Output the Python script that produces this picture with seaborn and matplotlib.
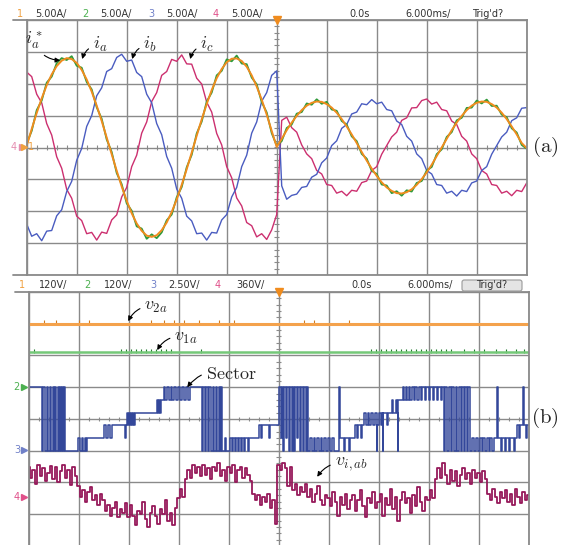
import numpy as np
import matplotlib
matplotlib.use("Agg")
import matplotlib.pyplot as plt
from matplotlib.lines import Line2D
from matplotlib.patches import FancyBboxPatch
import seaborn as sns

# scope sample clocks (time in divisions, 6 ms/div)
t_cur = np.round(np.arange(101) * 0.1 - 5.0, 2)
t_vab = np.round(np.arange(201) * 0.05 - 5.0, 2)

# ---- (a) currents, read in divisions (5 A/div) ----
ia_ref = [0.05, 0.58, 1.08, 1.54, 1.95, 2.29, 2.55, 2.72, 2.80, 2.77,
          2.65, 2.43, 2.13, 1.75, 1.31, 0.83, 0.31, -0.21, -0.73, -1.22,
          -1.67, -2.06, -2.38, -2.61, -2.76, -2.80, -2.75, -2.59, -2.35, -2.02,
          -1.63, -1.17, -0.68, -0.16, 0.37, 0.88, 1.36, 1.80, 2.17, 2.46,
          2.67, 2.78, 2.79, 2.71, 2.53, 2.26, 1.91, 1.50, 1.03, 0.52,
          0.02,
          0.27, 0.54, 0.78, 0.99, 1.17, 1.31, 1.40, 1.44, 1.43, 1.36,
          1.25, 1.09, 0.89, 0.66, 0.41, 0.14, -0.14, -0.41, -0.66, -0.89,
          -1.09, -1.25, -1.36, -1.43, -1.44, -1.40, -1.31, -1.17, -0.99, -0.78,
          -0.54, -0.27, 0.00, 0.27, 0.54, 0.78, 0.99, 1.17, 1.31, 1.40,
          1.44, 1.43, 1.36, 1.25, 1.09, 0.89, 0.66, 0.41, 0.14, -0.02]

ia = [0.12, 0.52, 1.17, 1.47, 2.03, 2.22, 2.64, 2.80, 2.74, 2.86,
      2.56, 2.50, 2.05, 1.82, 1.26, 0.90, 0.25, -0.14, -0.80, -1.15,
      -1.75, -1.98, -2.47, -2.54, -2.86, -2.72, -2.84, -2.66, -2.28, -2.10,
      -1.56, -1.24, -0.62, -0.23, 0.44, 0.81, 1.44, 1.72, 2.26, 2.40,
      2.76, 2.70, 2.88, 2.63, 2.61, 2.19, 1.98, 1.42, 1.10, 0.45,
      0.06,
      0.20, 0.61, 0.72, 1.06, 1.11, 1.38, 1.34, 1.51, 1.37, 1.43,
      1.19, 1.15, 0.83, 0.72, 0.35, 0.20, -0.20, -0.35, -0.73, -0.83,
      -1.16, -1.19, -1.43, -1.37, -1.51, -1.34, -1.38, -1.11, -1.05, -0.72,
      -0.61, -0.21, -0.06, 0.33, 0.48, 0.85, 0.93, 1.24, 1.25, 1.47,
      1.38, 1.50, 1.30, 1.31, 1.03, 0.95, 0.60, 0.47, 0.08, -0.04]

ib = [-2.40, -2.78, -2.70, -2.92, -2.62, -2.60, -2.14, -1.95, -1.38, -1.06,
      -0.40, -0.03, 0.66, 1.00, 1.62, 1.87, 2.38, 2.47, 2.82, 2.92,
      2.70, 2.74, 2.35, 2.22, 1.67, 1.40, 0.75, 0.40, -0.28, -0.65,
      -1.30, -1.59, -2.15, -2.30, -2.70, -2.68, -2.90, -2.66, -2.68, -2.27,
      -2.10, -1.55, -1.25, -0.60, -0.24, 0.45, 0.80, 1.45, 1.72, 2.26,
      2.40,
      -1.20, -1.62, -1.50, -1.46, -1.25, -1.22, -0.93, -0.84, -0.48, -0.33,
      0.06, 0.21, 0.60, 0.72, 1.05, 1.11, 1.37, 1.34, 1.50, 1.37,
      1.42, 1.19, 1.15, 0.83, 0.72, 0.35, 0.20, -0.20, -0.35, -0.72,
      -0.83, -1.16, -1.19, -1.43, -1.37, -1.52, -1.34, -1.38, -1.11, -1.05,
      -0.72, -0.60, -0.21, 0.06, 0.33, 0.48, 0.84, 0.93, 1.23, 1.25]

ic = [2.36, 2.22, 1.67, 1.40, 0.75, 0.39, -0.29, -0.65, -1.31, -1.59,
      -2.15, -2.29, -2.70, -2.66, -2.90, -2.65, -2.69, -2.27, -2.11, -1.55,
      -1.25, -0.60, -0.24, 0.45, 0.80, 1.44, 1.72, 2.26, 2.38, 2.76,
      2.70, 2.90, 2.62, 2.61, 2.17, 1.99, 1.42, 1.11, 0.44, 0.08,
      -0.60, -0.95, -1.58, -1.83, -2.35, -2.45, -2.80, -2.70, -2.88, -2.58,
      -2.10,
      0.85, 0.95, 0.62, 0.48, 0.08, -0.20, -0.35, -0.72, -0.83, -1.16,
      -1.19, -1.43, -1.37, -1.51, -1.34, -1.37, -1.10, -1.05, -0.72, -0.60,
      -0.21, 0.06, 0.33, 0.48, 0.85, 0.93, 1.24, 1.25, 1.47, 1.52,
      1.36, 1.42, 1.19, 1.15, 0.83, 0.72, 0.35, 0.20, -0.20, -0.35,
      -0.72, -0.83, -1.16, -1.19, -1.43, -1.37, -1.51, -1.34, -1.38, -1.11]

# ---- (b) voltages and sector ----
v2a_level = 3.0     # div
v1a_level = 2.1     # div
v2a_blips = [-4.7, -4.45, -4.0, -3.8, -2.55, -2.3, -2.1, -1.9, -1.6, -1.2, -0.9, 0.5, 0.7, 1.4]
v1a_blips = [-4.9, -3.15, -3.05, -2.95, -2.85, -2.75, -2.65, -2.55, -2.45, -2.35, -2.25, -2.15,
             -1.55, 1.85, 1.95, 2.05, 2.15, 2.25, 2.35, 2.45, 2.55, 2.65, 2.75, 2.85, 2.95,
             3.05, 3.15, 3.25, 3.35, 3.45, 3.7, 3.9, 4.1, 4.35, 4.55, 4.75, 4.9]

# sector number (1..6) switching instants
sector_steps = [
    (-5.00, 6), (-4.74, 1), (-4.72, 6), (-4.68, 1), (-4.64, 6), (-4.62, 1), (-4.58, 6), (-4.55, 1),
    (-4.52, 6), (-4.50, 1), (-4.48, 6), (-4.45, 1), (-4.42, 6), (-4.40, 1), (-4.38, 6), (-4.35, 1),
    (-4.34, 6), (-4.32, 1), (-4.30, 6), (-4.28, 1),
    (-4.02, 2), (-3.98, 1), (-3.94, 2), (-3.92, 1), (-3.88, 2), (-3.86, 1), (-3.84, 2),
    (-3.50, 3), (-3.46, 2), (-3.42, 3), (-3.38, 2), (-3.34, 3),
    (-3.08, 2), (-3.06, 3), (-3.04, 4), (-3.02, 3), (-3.00, 4), (-2.98, 3), (-2.96, 4), (-2.94, 3),
    (-2.92, 4), (-2.90, 3), (-2.88, 4),
    (-2.44, 5), (-2.42, 4), (-2.40, 5), (-2.38, 4), (-2.36, 5),
    (-2.30, 6), (-2.28, 5), (-2.24, 6), (-2.20, 5), (-2.16, 6), (-2.14, 5), (-2.10, 6), (-2.06, 5),
    (-2.02, 6), (-1.98, 5), (-1.94, 6), (-1.90, 5), (-1.86, 6), (-1.82, 5), (-1.78, 6),
    (-1.54, 1), (-1.52, 6), (-1.48, 1), (-1.46, 6), (-1.42, 1), (-1.40, 6), (-1.36, 1), (-1.32, 6),
    (-1.30, 1), (-1.26, 6), (-1.24, 1), (-1.20, 6), (-1.18, 1), (-1.16, 6), (-1.14, 1),
    (-1.08, 2), (-1.06, 1),
    (-0.98, 2), (-0.94, 1), (-0.92, 2), (-0.88, 1), (-0.86, 2), (-0.82, 1), (-0.80, 2), (-0.76, 1),
    (-0.74, 2), (-0.70, 1), (-0.68, 2), (-0.62, 1), (-0.60, 2),
    (-0.40, 3), (-0.36, 2), (-0.34, 3), (-0.20, 2), (-0.18, 3),
    (0.00, 6), (0.04, 2), (0.06, 6), (0.08, 1), (0.10, 6), (0.14, 2), (0.16, 6), (0.20, 1),
    (0.22, 6), (0.26, 1), (0.28, 6), (0.30, 1), (0.32, 6), (0.36, 2), (0.38, 6), (0.42, 1),
    (0.44, 6), (0.48, 1), (0.50, 6), (0.54, 1), (0.56, 6),
    (0.58, 1), (0.62, 2), (0.66, 1), (0.70, 2), (0.72, 1), (0.76, 2), (0.80, 1), (0.84, 2),
    (0.86, 1), (0.90, 2), (0.94, 1), (0.98, 2), (1.02, 1), (1.06, 2), (1.10, 1),
    (1.20, 6), (1.22, 2), (1.30, 1), (1.32, 2), (1.40, 1), (1.42, 2),
    (1.52, 3), (1.56, 2), (1.58, 3), (1.64, 2), (1.66, 3),
    (1.70, 4), (1.74, 3), (1.78, 4), (1.80, 3), (1.84, 4), (1.88, 3), (1.92, 4), (1.96, 1),
    (1.97, 3), (2.00, 4), (2.04, 3), (2.06, 4), (2.08, 1), (2.09, 4),
    (2.16, 3), (2.18, 4), (2.26, 5), (2.28, 4), (2.34, 5), (2.36, 4), (2.38, 1), (2.39, 5),
    (2.48, 6), (2.50, 5), (2.54, 6), (2.56, 5), (2.60, 6), (2.62, 5), (2.66, 6),
    (2.70, 5), (2.72, 6), (2.76, 5), (2.80, 6), (2.84, 5), (2.86, 6), (2.92, 5), (2.94, 6),
    (3.00, 5), (3.02, 6), (3.08, 5), (3.10, 6), (3.16, 5), (3.18, 6), (3.24, 5), (3.26, 6),
    (3.30, 1), (3.32, 6), (3.36, 1), (3.40, 6), (3.44, 1), (3.46, 6), (3.50, 1), (3.54, 6),
    (3.56, 1), (3.60, 6), (3.64, 1), (3.66, 6), (3.70, 1), (3.72, 6), (3.76, 1), (3.78, 6), (3.82, 1),
    (3.86, 2), (3.90, 1), (3.94, 2), (3.98, 1), (4.02, 2),
    (4.06, 1), (4.08, 2), (4.12, 1), (4.16, 2), (4.20, 1), (4.22, 2), (4.26, 1), (4.30, 2),
    (4.36, 6), (4.38, 2), (4.44, 1), (4.46, 2), (4.52, 1), (4.54, 2), (4.60, 1), (4.62, 2),
    (4.70, 1), (4.72, 2),
    (4.76, 3), (4.80, 2), (4.82, 3), (4.88, 6), (4.90, 3), (4.94, 2), (4.96, 3), (5.00, 3),
]
sector_ground = -1.0   # div
sector_step = 0.4      # div per sector (2.50 V/div)

# inverter line voltage v_i,ab (div on screen)
vab = [-1.50, -1.85, -1.60, -2.05, -1.45, -1.80, -1.55, -1.95, -1.70, -1.48,
       -1.90, -1.52, -2.00, -1.65, -1.45, -1.85, -1.60, -2.08, -1.50, -1.80,
       -2.10, -2.45, -2.25, -2.60, -2.30, -2.15, -2.55, -2.40, -2.70, -2.35,
       -2.55, -2.90, -2.70, -3.05, -2.80, -2.60, -3.10, -2.85, -2.95, -2.65,
       -3.10, -2.70, -3.05, -3.35, -2.90, -3.00, -2.60, -3.15, -3.40, -2.95,
       -2.75, -3.05, -3.30, -2.85, -3.00, -2.55, -3.20, -2.95, -3.35, -2.80,
       -2.50, -2.20, -2.45, -1.90, -1.60, -1.85, -1.45, -1.70, -1.50, -1.80,
       -1.45, -1.75, -1.55, -1.90, -1.50, -1.65, -1.40, -1.80, -1.60, -1.95,
       -1.50, -1.70, -1.45, -2.00, -1.60, -1.50, -1.85, -1.55, -1.75, -1.95,
       -2.35, -2.55, -2.40, -2.70, -2.45, -2.60, -2.35, -2.80, -2.55, -3.30,
       -1.45, -1.60, -1.40, -1.55, -2.10, -1.50, -2.25, -2.05, -2.40, -2.15,
       -2.30, -2.05, -2.45, -2.20, -2.60, -2.35, -2.10, -2.55, -2.70, -2.40,
       -2.50, -2.75, -2.30, -2.60, -3.05, -2.45, -2.70, -2.35, -2.85, -2.55,
       -2.40, -2.90, -2.55, -2.25, -2.75, -3.10, -2.50, -2.65, -2.30, -2.80,
       -2.60, -2.35, -3.05, -2.50, -2.70, -2.20, -2.85, -2.45, -3.20, -2.55,
       -2.30, -2.65, -2.50, -2.95, -2.40, -2.75, -2.15, -2.60, -2.90, -2.45,
       -2.55, -2.25, -2.50, -1.90, -1.55, -1.85, -1.40, -1.75, -2.05, -1.60,
       -1.95, -1.65, -2.10, -1.75, -1.55, -1.90, -1.70, -2.05, -1.60, -1.85,
       -1.70, -2.00, -1.65, -1.90, -2.35, -2.55, -2.20, -2.45, -2.65, -2.30,
       -2.50, -2.25, -2.60, -2.35, -2.70, -2.20, -2.45, -2.65, -2.30, -2.55,
       -2.40]

top_header = [("1", "5.00A/"), ("2", "5.00A/"), ("3", "5.00A/"), ("4", "5.00A/")]
bot_header = [("1", "120V/"), ("2", "120V/"), ("3", "2.50V/"), ("4", "360V/")]

# colours
GRID = "#8a8a8a"
ORANGE = "#f08c1e"
GREEN = "#2f9a3a"
BLUE = "#4a5cc0"
PINK = "#cc2f6f"
CH_COL = ["#f0a040", "#4cb050", "#7080c8", "#e0508a"]

sns.set_style("white")
plt.rcParams["font.family"] = ["DejaVu Sans"]
plt.rcParams["mathtext.fontset"] = "cm"

W, H = 565, 545
fig = plt.figure(figsize=(W / 100, H / 100), dpi=100)


def fx(x):
    return x / W


def fy(y):
    return 1 - y / H


ax_a = fig.add_axes([fx(26.7), fy(275.2), 500 / W, 255.4 / H])
ax_b = fig.add_axes([fx(28.7), fy(546.0), 500 / W, 254.0 / H])


def scope_grid(ax):
    ax.set_xlim(-5, 5)
    ax.set_ylim(-4, 4)
    ax.set_xticks(np.arange(-5, 6))
    ax.set_yticks(np.arange(-4, 5))
    ax.tick_params(length=0, labelbottom=False, labelleft=False)
    ax.grid(True, color=GRID, lw=1.0)
    ax.set_axisbelow(True)
    for s in ax.spines.values():
        s.set_color(GRID)
        s.set_linewidth(1.3)
    # minor ticks on the centre cross
    ax.vlines(np.arange(-5, 5.01, 0.2), -0.07, 0.07, color=GRID, lw=0.8, zorder=1)
    ax.hlines(np.arange(-4, 4.01, 0.2), -0.05, 0.05, color=GRID, lw=0.8, zorder=1)
    ax.plot([0], [4.0], marker="v", color=ORANGE, ms=6, clip_on=False, zorder=5)
    ax.set_xlabel("")
    ax.set_ylabel("")


# ---- panel (a) ----
kw = dict(estimator=None, errorbar=None, legend=False)
sns.lineplot(x=t_cur, y=ic, ax=ax_a, color=PINK, lw=1.0, **kw)
sns.lineplot(x=t_cur, y=ib, ax=ax_a, color=BLUE, lw=1.0, **kw)
sns.lineplot(x=t_cur, y=ia, ax=ax_a, color=GREEN, lw=1.3, **kw)
sns.lineplot(x=t_cur, y=ia_ref, ax=ax_a, color=ORANGE, lw=1.4, **kw)
scope_grid(ax_a)

arrow = dict(arrowstyle="-|>", color="k", lw=0.8, mutation_scale=7,
             connectionstyle="arc3,rad=0.35", shrinkA=1, shrinkB=0)
ax_a.annotate(r"$i_a^*$", xy=(-4.33, 2.73), xytext=(-4.85, 3.36), fontsize=13,
              ha="center", va="center", arrowprops=arrow)
for lab, tx, hx in [(r"$i_a$", -3.53, -3.89), (r"$i_b$", -2.53, -2.89), (r"$i_c$", -1.39, -1.73)]:
    ax_a.annotate(lab, xy=(hx, 2.77), xytext=(tx, 3.22), fontsize=13, ha="center",
                  va="center", arrowprops=arrow)

# ---- panel (b) ----
sns.lineplot(x=[-5, 5], y=[v2a_level, v2a_level], ax=ax_b, color="#f4a24c", lw=2.2, **kw)
sns.lineplot(x=[-5, 5], y=[v1a_level, v1a_level], ax=ax_b, color="#74c878", lw=1.8, **kw)
sns.scatterplot(x=v2a_blips, y=[v2a_level + 0.04] * len(v2a_blips), ax=ax_b, marker="|",
                s=12, color="#d07a20", linewidth=0.8, legend=False)
sns.scatterplot(x=v1a_blips, y=[v1a_level + 0.05] * len(v1a_blips), ax=ax_b, marker="|",
                s=12, color="#1f7a2a", linewidth=0.8, legend=False)

sec_t = [p[0] for p in sector_steps]
sec_y = [sector_ground + sector_step * (p[1] - 1) for p in sector_steps]
sns.lineplot(x=sec_t, y=sec_y, ax=ax_b, color="#33479a", lw=1.1, drawstyle="steps-post", **kw)
sns.lineplot(x=t_vab, y=vab, ax=ax_b, color="#96195a", lw=1.3, drawstyle="steps-mid", **kw)
scope_grid(ax_b)

ax_b.annotate(r"$v_{2a}$", xy=(-3.01, 3.08), xytext=(-2.45, 3.55), fontsize=13,
              ha="center", va="center", arrowprops=arrow)
ax_b.annotate(r"$v_{1a}$", xy=(-2.43, 2.17), xytext=(-1.85, 2.58), fontsize=13,
              ha="center", va="center", arrowprops=arrow)
ax_b.annotate(r"$\mathrm{Sector}$", xy=(-1.83, 1.0), xytext=(-0.95, 1.42), fontsize=13,
              ha="center", va="center", arrowprops=arrow)
ax_b.annotate(r"$v_{i,ab}$", xy=(0.77, -1.82), xytext=(1.45, -1.42), fontsize=13,
              ha="center", va="center", arrowprops=arrow)


# ---- headers ----
def header(y, items, x_num, x_val):
    for (num, val), xn, xv, c in zip(items, x_num, x_val, CH_COL):
        fig.text(fx(xn), fy(y), num, color=c, fontsize=7, ha="center", va="center")
        fig.text(fx(xv), fy(y), val, color="#333333", fontsize=7, ha="left", va="center")


header(13.7, top_header, [20, 85, 151, 216], [35, 100, 166, 231])
fig.text(fx(349), fy(13.7), "0.0s", color="#333333", fontsize=7, va="center")
fig.text(fx(405), fy(13.7), "6.000ms/", color="#333333", fontsize=7, va="center")
fig.text(fx(472), fy(13.7), "Trig'd?", color="#333333", fontsize=7, va="center")

header(285.5, bot_header, [22, 87, 153, 218], [39, 104, 168, 236])
fig.text(fx(351), fy(285.5), "0.0s", color="#333333", fontsize=7, va="center")
fig.text(fx(407), fy(285.5), "6.000ms/", color="#333333", fontsize=7, va="center")
box = FancyBboxPatch((fx(462), fy(291)), (522 - 462) / W, 11 / H,
                     boxstyle="round,pad=0,rounding_size=0.004", transform=fig.transFigure,
                     facecolor="#e4e4e4", edgecolor="#9a9a9a", lw=0.8)
fig.add_artist(box)
fig.text(fx(492), fy(285.5), "Trig'd?", color="#333333", fontsize=7, ha="center", va="center")

# frame lines extending left of the grids
for y, x0, x1 in [(20, 13, 27), (275.5, 13, 27), (292, 15, 29)]:
    fig.add_artist(Line2D([fx(x0), fx(x1)], [fy(y), fy(y)], color=GRID, lw=1.3,
                          transform=fig.transFigure))


# channel ground markers on the left
def marker(y, label, col, x_lab, x_arr):
    fig.text(fx(x_lab), fy(y), label, color=col, fontsize=7, ha="center", va="center")
    fig.add_artist(Line2D([fx(x_arr)], [fy(y)], marker=">", color=col, ms=4,
                          transform=fig.transFigure))


marker(147.3, "4", "#e58db0", 14, 22)
marker(147.3, "1", CH_COL[0], 31, 24)
marker(387, "2", CH_COL[1], 16, 24)
marker(450, "3", CH_COL[2], 17, 24)
marker(497, "4", CH_COL[3], 17, 24)

fig.text(fx(545), fy(147), r"$\mathrm{(a)}$", fontsize=15, ha="center", va="center")
fig.text(fx(545), fy(418), r"$\mathrm{(b)}$", fontsize=15, ha="center", va="center")

fig.savefig("out.png", dpi=100)
